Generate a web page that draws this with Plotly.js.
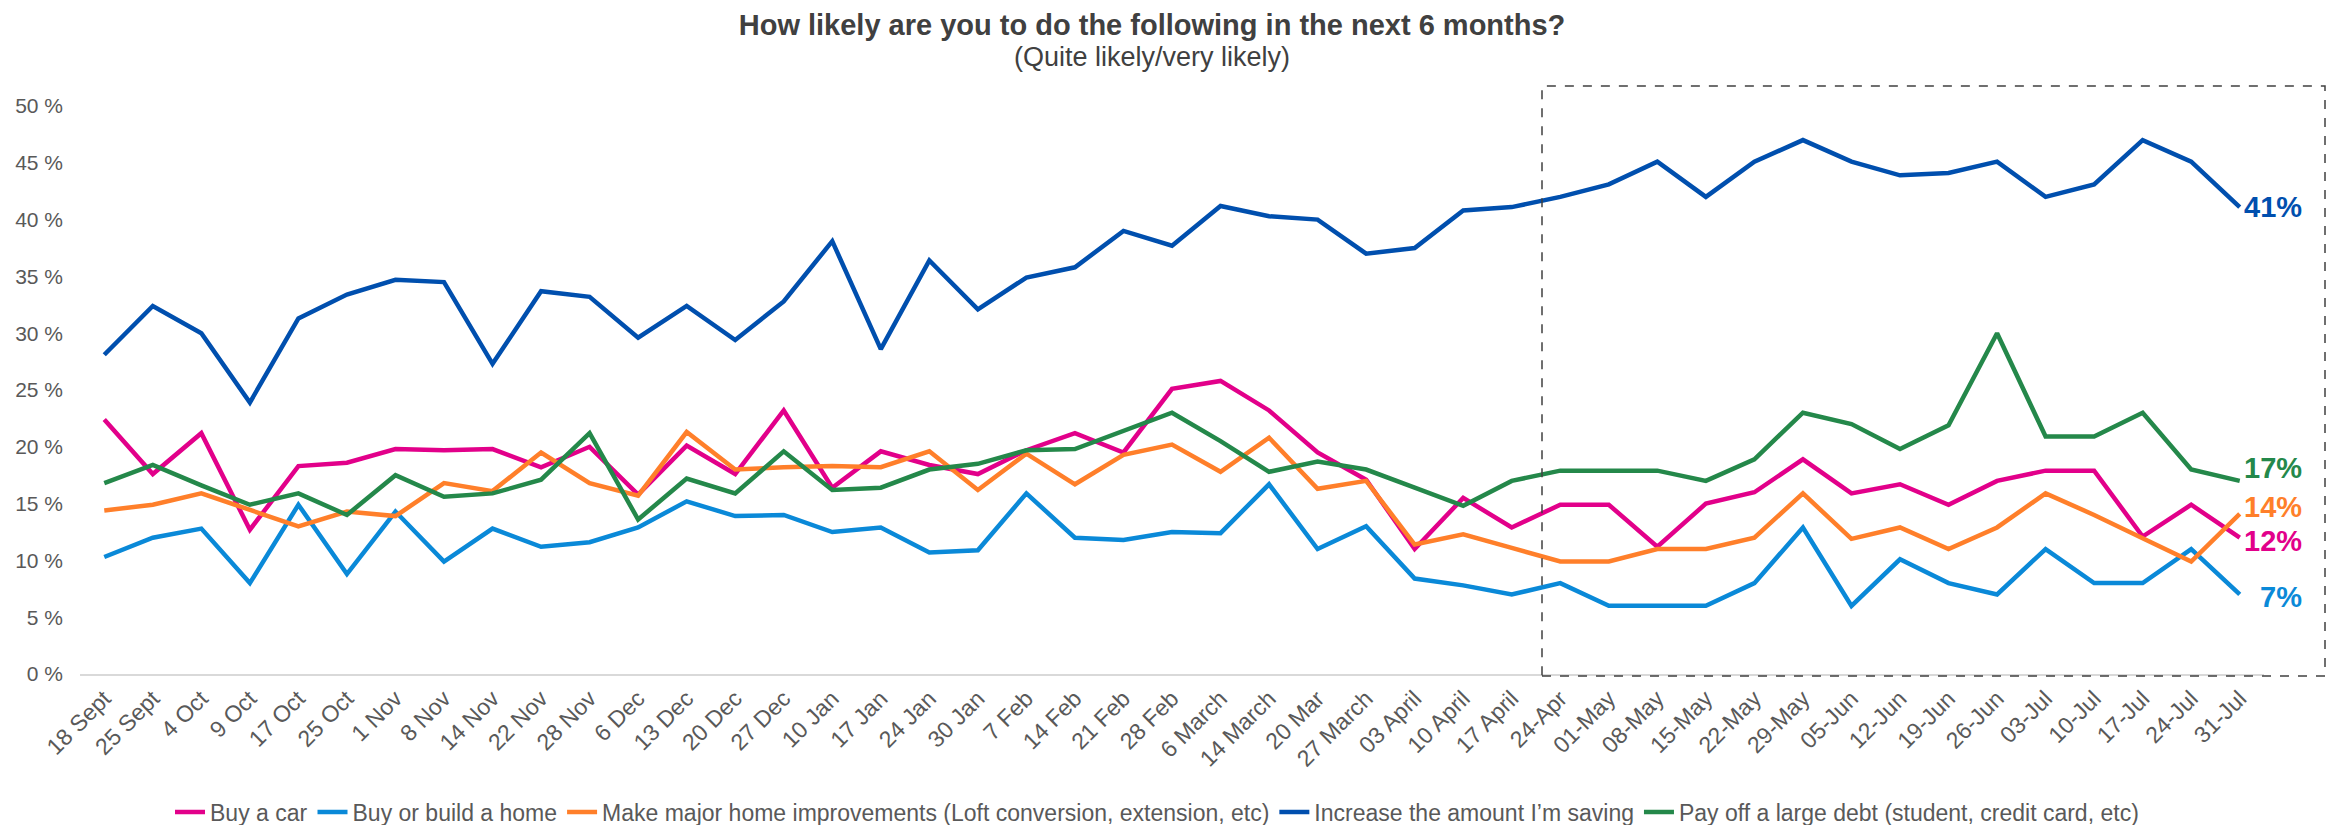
<!DOCTYPE html>
<html>
<head>
<meta charset="utf-8">
<script src="https://cdn.plot.ly/plotly-3.0.1.min.js"></script>
<style>html,body{margin:0;padding:0;background:#fff;}#chart{width:2336px;height:825px;}</style>
</head>
<body>
<div id="chart"></div>
<script>
const categories = ['18 Sept','25 Sept','4 Oct','9 Oct','17 Oct','25 Oct','1 Nov','8 Nov','14 Nov','22 Nov','28 Nov','6 Dec','13 Dec','20 Dec','27 Dec','10 Jan','17 Jan','24 Jan','30 Jan','7 Feb','14 Feb','21 Feb','28 Feb','6 March','14 March','20 Mar','27 March','03 April','10 April','17 April','24-Apr','01-May','08-May','15-May','22-May','29-May','05-Jun','12-Jun','19-Jun','26-Jun','03-Jul','10-Jul','17-Jul','24-Jul','31-Jul'];

const buyCar = [22.4,17.6,21.2,12.7,18.3,18.6,19.8,19.7,19.8,18.2,20.0,15.8,20.1,17.6,23.2,16.4,19.6,18.4,17.6,19.7,21.2,19.5,25.1,25.8,23.2,19.5,17.1,11.0,15.5,12.9,14.9,14.9,11.2,15.0,16.0,18.9,15.9,16.7,14.9,17.0,17.9,17.9,12.1,14.9,12.0];
const buyHome = [10.3,12.0,12.8,8.0,14.9,8.8,14.3,9.9,12.8,11.2,11.6,12.9,15.2,13.9,14.0,12.5,12.9,10.7,10.9,15.9,12.0,11.8,12.5,12.4,16.7,11.0,13.0,8.4,7.8,7.0,8.0,6.0,6.0,6.0,8.0,12.9,6.0,10.1,8.0,7.0,11.0,8.0,8.0,11.0,7.0];
const homeImprove = [14.4,14.9,15.9,14.4,13.0,14.3,13.9,16.8,16.1,19.5,16.8,15.7,21.3,18.0,18.2,18.3,18.2,19.6,16.2,19.4,16.7,19.3,20.2,17.8,20.8,16.3,17.0,11.4,12.3,11.1,9.9,9.9,11.0,11.0,12.0,15.9,11.9,12.9,11.0,12.9,15.9,14.0,12.0,9.9,14.1];
const saving = [28.1,32.4,30.0,23.9,31.3,33.4,34.7,34.5,27.3,33.7,33.2,29.6,32.4,29.4,32.8,38.1,28.6,36.4,32.1,34.9,35.8,39.0,37.7,41.2,40.3,40.0,37.0,37.5,40.8,41.1,42.0,43.1,45.1,42.0,45.1,47.0,45.1,43.9,44.1,45.1,42.0,43.1,47.0,45.1,41.1];
const payDebt = [16.8,18.4,16.6,14.9,15.9,14.0,17.5,15.6,15.9,17.1,21.2,13.6,17.2,15.9,19.6,16.2,16.4,18.0,18.5,19.7,19.8,21.4,23.0,20.5,17.8,18.7,18.0,16.4,14.8,17.0,17.9,17.9,17.9,17.0,18.9,23.0,22.0,19.8,21.9,30.0,20.9,20.9,23.0,18.0,17.0];

const seriesNames = ['Buy a car','Buy or build a home','Make major home improvements (Loft conversion, extension, etc)','Increase the amount I\u2019m saving','Pay off a large debt (student, credit card, etc)'];
const seriesColors = ['#E2008A','#0A89D8','#FF7F2A','#004FAE','#24884A'];
const seriesData = [buyCar, buyHome, homeImprove, saving, payDebt];
const labelShift = [-3, -3, 7, 0, 13];
const yTicks = [0,5,10,15,20,25,30,35,40,45,50];
const yTickText = yTicks.map(v => v + ' %');

const font = 'Liberation Sans, Arial, sans-serif';
const gray = '#595959';

const traces = seriesData.map((d, i) => ({
  type: 'scatter', mode: 'lines', x: categories, y: d, name: seriesNames[i],
  line: {color: seriesColors[i], width: 4.5}, cliponaxis: false
}));

const lastIdx = categories.length - 1;
const annotations = seriesData.map((d, i) => ({
  xref: 'x', yref: 'y', x: categories[lastIdx], y: d[lastIdx],
  text: '<b>' + Math.round(d[lastIdx]) + '%</b>',
  showarrow: false, xanchor: 'right', xshift: 64, yshift: labelShift[i],
  font: {family: font, size: 29, color: seriesColors[i]}
}));
annotations.push({
  xref: 'paper', yref: 'paper', x: (1152-80)/2184, y: (674-57)/568,
  text: '(Quite likely/very likely)', showarrow: false, xanchor: 'center', yanchor: 'middle',
  font: {family: font, size: 27, color: '#404040'}
});

const layout = {
  width: 2336, height: 825,
  margin: {l: 80, r: 72, t: 106, b: 151, autoexpand: false},
  paper_bgcolor: '#fff', plot_bgcolor: '#fff',
  title: {
    text: '<b>How likely are you to do the following in the next 6 months?</b>',
    xref: 'container', yref: 'container', x: 1152/2336, y: 1 - 25/825, xanchor: 'center', yanchor: 'middle',
    font: {family: font, size: 29, color: '#404040'}
  },
  xaxis: {
    type: 'category', range: [-0.5, lastIdx + 0.5], tickangle: -45, automargin: false,
    showgrid: false, zeroline: false, showline: true, linecolor: '#D9D9D9', linewidth: 2,
    ticks: '', tickfont: {family: font, size: 23, color: gray}
  },
  yaxis: {
    range: [0, 50], tickvals: yTicks, ticktext: yTickText, showgrid: false, zeroline: false,
    showline: false, ticks: '', ticklabelstandoff: 16, automargin: false,
    tickfont: {family: font, size: 21, color: gray}
  },
  legend: {
    orientation: 'h', xref: 'container', yref: 'container', x: 1157/2336, xanchor: 'center',
    y: 1 - 812/825, yanchor: 'middle',
    font: {family: font, size: 23, color: gray}, bgcolor: 'rgba(0,0,0,0)'
  },
  shapes: [{
    type: 'rect', xref: 'paper', yref: 'paper',
    x0: (1542-80)/2184, x1: (2325-80)/2184, y0: -0.0035, y1: 1.035,
    line: {color: '#404040', width: 1.5, dash: 'dash'}
  }],
  annotations: annotations,
  showlegend: true
};

Plotly.newPlot('chart', traces, layout, {staticPlot: true, displayModeBar: false});
</script>
</body>
</html>
